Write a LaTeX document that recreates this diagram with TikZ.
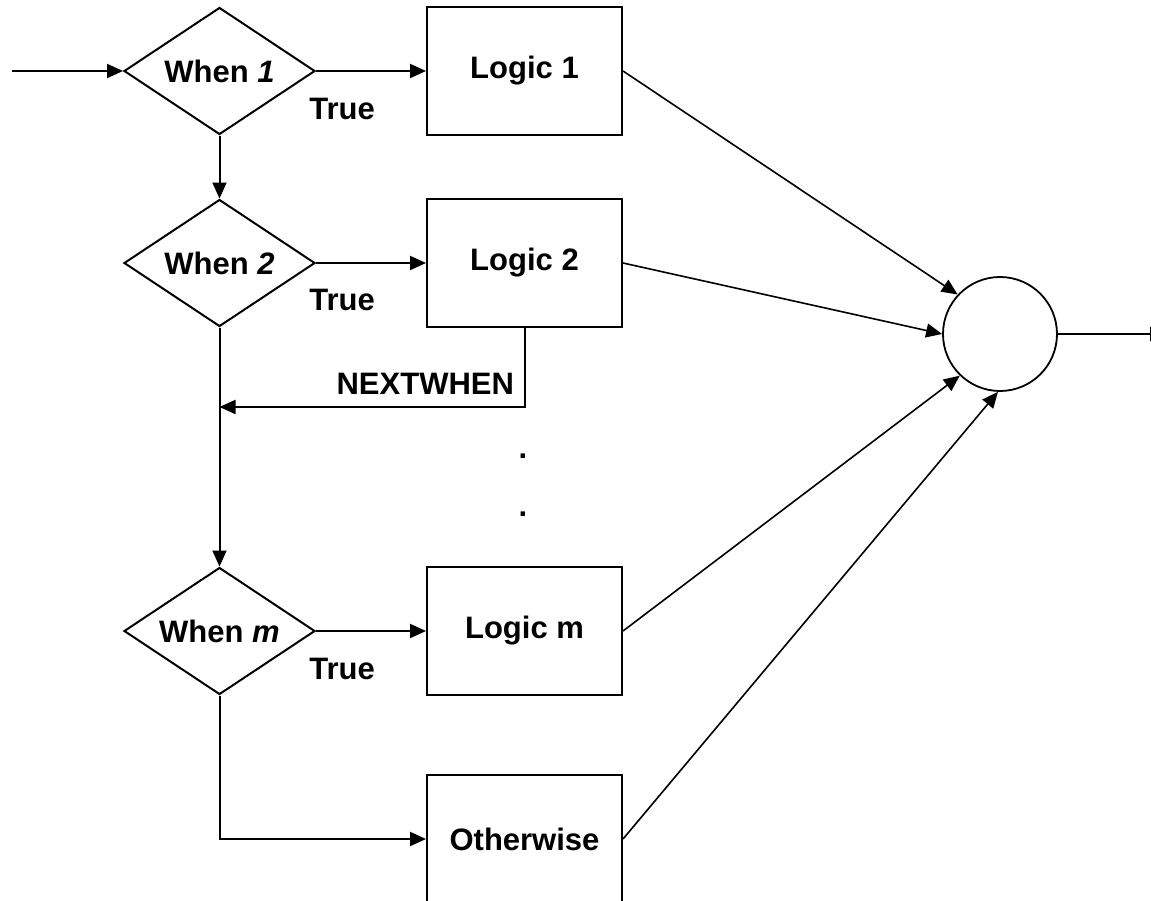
\documentclass[tikz,border=0pt]{standalone}
\usepackage{fontspec}
\setmainfont{Liberation Sans}
\usetikzlibrary{shapes.geometric,arrows.meta}
\begin{document}
\begin{tikzpicture}[x=1pt,y=-1pt,
  line width=2pt,
  every node/.style={font=\fontsize{31}{36}\selectfont\bfseries},
  dec/.style={draw,diamond,aspect=1.5,minimum width=191pt,minimum height=127pt,inner sep=0pt},
  box/.style={draw,rectangle,minimum width=195pt,minimum height=128pt,inner sep=0pt},
  lbl/.style={inner sep=0pt},
  arr/.style={-{Triangle[length=16pt,width=14pt]}}
]
\useasboundingbox (0,0) rectangle (1151,900);
\clip (0,0) rectangle (1151,900);
\coordinate (in) at (12,71);
\node[dec] (d1) at (219.5,71) {When \textit{1}};
\node[dec] (d2) at (219.5,263) {When \textit{2}};
\node[dec] (dm) at (219.5,631) {When \textit{m}};
\node[box] (l1) at (524.5,71) {Logic 1};
\node[box] (l2) at (524.5,263) {Logic 2};
\node[box] (lm) at (524.5,631) {Logic m};
\node[box] (ow) at (524.5,839) {Otherwise};
\node[draw,circle,minimum size=114pt,inner sep=0pt,line width=1.8pt] (c) at (1000,334) {};
\coordinate (out) at (1166,334);
\coordinate (nw) at (219.5,407);
\node[lbl] (t1) at (342,109) {True};
\node[lbl] (t2) at (342,300) {True};
\node[lbl] (tm) at (342,669) {True};
\node[lbl,anchor=east] (nwl) at (515,384) {NEXTWHEN};
\node[lbl] (dot1) at (523,456) {.};
\node[lbl] (dot2) at (523,514) {.};
\draw[arr] (in) -- (d1.west);
\draw[arr] (d1.east) -- (l1.west);
\draw[arr] (d2.east) -- (l2.west);
\draw[arr] (dm.east) -- (lm.west);
\draw[arr] (d1.south) -- (d2.north);
\draw[arr] (d2.south) -- (dm.north);
\draw[arr] (l2.south) |- (nw);
\draw[arr] (dm.south) |- (ow.west);
\draw[arr,line width=1.6pt] (l1.east) -- (c.137);
\draw[arr,line width=1.6pt] (l2.east) -- (c.180);
\draw[arr,line width=1.6pt] (lm.east) -- (c.226);
\draw[arr,line width=1.6pt] (ow.east) -- (c.268);
\draw[arr] (c.east) -- (out);
\end{tikzpicture}
\end{document}
